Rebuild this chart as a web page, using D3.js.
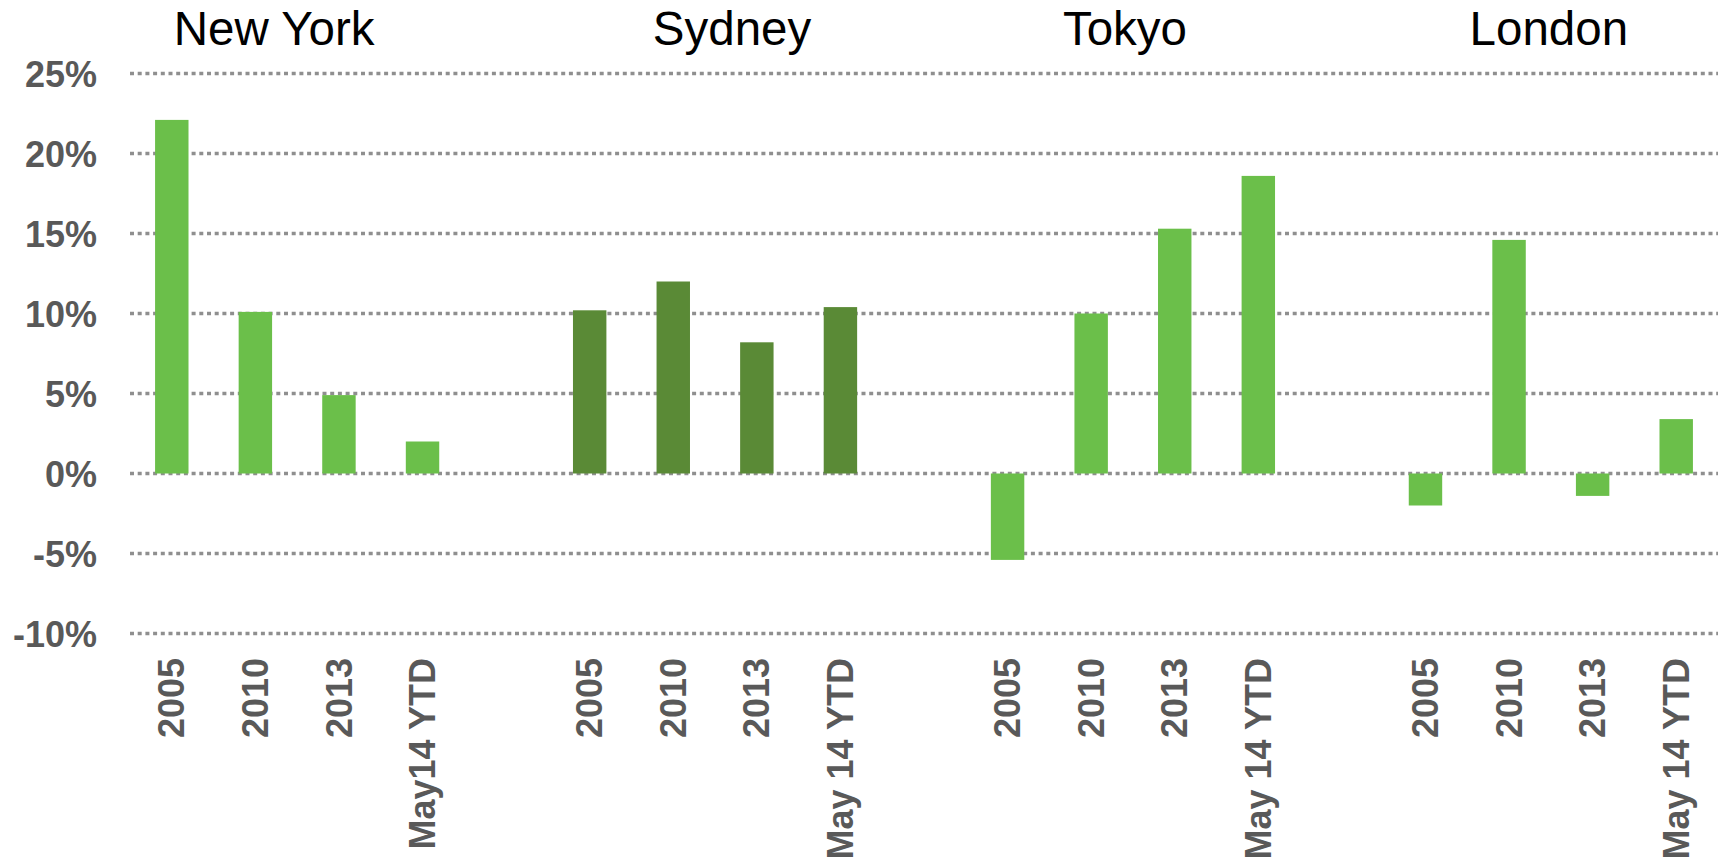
<!DOCTYPE html>
<html>
<head>
<meta charset="utf-8">
<script src="https://cdn.jsdelivr.net/npm/d3@7"></script>
<style>
  html, body { margin: 0; padding: 0; background: #ffffff; }
  svg { display: block; }
  text { font-family: "Liberation Sans", Arial, sans-serif; }
</style>
</head>
<body>
<svg id="chart" width="1724" height="865"></svg>
<script>
// Annual change by city, in percent
const cities = ["New York", "Sydney", "Tokyo", "London"];
const periods = ["2005", "2010", "2013", "May 14 YTD"];
const periodLabels = {
  "New York": ["2005", "2010", "2013", "May14 YTD"],
  "Sydney":   ["2005", "2010", "2013", "May 14 YTD"],
  "Tokyo":    ["2005", "2010", "2013", "May 14 YTD"],
  "London":   ["2005", "2010", "2013", "May 14 YTD"]
};
const newYork = [22.1, 10.1, 4.9, 2.0];
const sydney  = [10.2, 12.0, 8.2, 10.4];
const tokyo   = [-5.4, 10.0, 15.3, 18.6];
const london  = [-2.0, 14.6, -1.4, 3.4];
const yTicks = [-10, -5, 0, 5, 10, 15, 20, 25];

const seriesByCity = { "New York": newYork, "Sydney": sydney, "Tokyo": tokyo, "London": london };
const colorByCity = { "New York": "#6bbf4a", "Sydney": "#5a8a36", "Tokyo": "#6bbf4a", "London": "#6bbf4a" };
// Horizontal nudge of each city heading from its group centre
const titleNudge = { "New York": -23, "Sydney": 17, "Tokyo": -8, "London": -2 };

// One slot per bar, with an empty slot between cities
const slots = [];
const bars = [];
cities.forEach((c, ci) => {
  if (ci > 0) slots.push("gap" + ci);
  periods.forEach((p, pi) => {
    const key = c + "|" + p;
    slots.push(key);
    bars.push({ city: c, key, label: periodLabels[c][pi], value: seriesByCity[c][pi] });
  });
});

const svg = d3.select("#chart");
const plotLeft = 130, plotRight = 1718;
const x = d3.scaleBand().domain(slots).range([plotLeft, plotRight]).paddingInner(0.6).paddingOuter(0.3);
const y = d3.scaleLinear().domain([-10, 25]).range([633.5, 73.5]);

// Dotted gridlines
svg.append("g").selectAll("line").data(yTicks).join("line")
  .attr("x1", plotLeft).attr("x2", plotRight)
  .attr("y1", d => y(d)).attr("y2", d => y(d))
  .attr("stroke", "#8f8f8f").attr("stroke-width", 3.5)
  .attr("stroke-dasharray", "4,3.7");

// Y axis labels
const yAxis = d3.axisLeft(y).tickValues(yTicks).tickFormat(d => d + "%").tickSize(0).tickPadding(0);
const yg = svg.append("g").attr("transform", "translate(97,0)").call(yAxis);
yg.select(".domain").remove();
yg.selectAll("text")
  .attr("fill", "#595959").attr("font-size", 36).attr("font-weight", "bold")
  .attr("font-family", "'Liberation Sans', Arial, sans-serif")
  .attr("dy", "0.36em");

// Bars
svg.append("g").selectAll("rect").data(bars).join("rect")
  .attr("x", d => x(d.key))
  .attr("width", x.bandwidth())
  .attr("y", d => y(Math.max(0, d.value)))
  .attr("height", d => Math.abs(y(d.value) - y(0)))
  .attr("fill", d => colorByCity[d.city]);

// Rotated period labels under each bar
svg.append("g").selectAll("text").data(bars).join("text")
  .attr("transform", d => `translate(${x(d.key) + x.bandwidth() / 2},658) rotate(-90)`)
  .attr("text-anchor", "end")
  .attr("dy", "0.35em")
  .attr("fill", "#595959").attr("font-size", 36).attr("font-weight", "bold")
  .text(d => d.label);

// City headings
svg.append("g").selectAll("text").data(cities).join("text")
  .attr("x", c => {
    const first = x(c + "|" + periods[0]);
    const last = x(c + "|" + periods[periods.length - 1]) + x.bandwidth();
    return (first + last) / 2 + titleNudge[c];
  })
  .attr("y", 45)
  .attr("text-anchor", "middle")
  .attr("fill", "#000000").attr("font-size", 47.5)
  .text(c => c);
</script>
</body>
</html>
